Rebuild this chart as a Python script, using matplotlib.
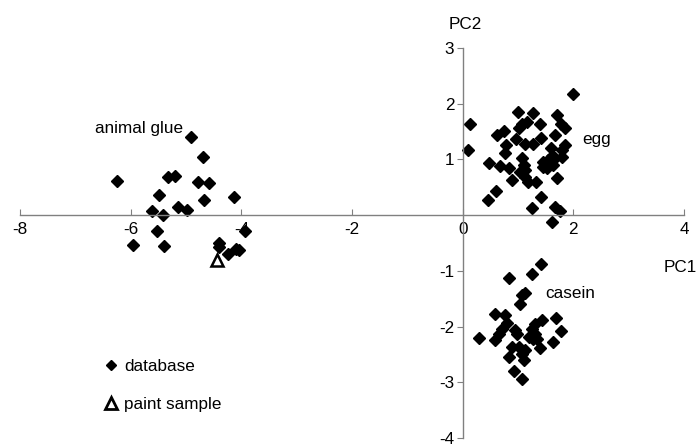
import matplotlib.pyplot as plt
from matplotlib.lines import Line2D

plt.rcParams['font.family'] = ['Liberation Sans', 'DejaVu Sans']
plt.rcParams['axes.unicode_minus'] = False

# database samples, PC1 / PC2 scores
glue_x = [-4.91, -4.69, -6.25, -5.33, -5.19, -4.79, -4.58, -5.48, -4.67, -4.13,
          -5.15, -4.98, -5.62, -5.42, -5.53, -3.93, -5.96, -5.40, -4.40, -4.40,
          -4.05, -4.10, -4.24]
glue_y = [1.40, 1.05, 0.61, 0.68, 0.70, 0.59, 0.58, 0.37, 0.28, 0.32,
          0.14, 0.10, 0.08, 0.00, -0.28, -0.28, -0.53, -0.55, -0.50, -0.58,
          -0.62, -0.61, -0.70]

egg_x = [2.00, 0.14, 0.10, 1.00, 1.28, 1.70, 1.16, 1.07, 1.40, 1.78,
         0.74, 1.85, 0.62, 1.01, 0.97, 1.42, 1.67, 1.13, 1.28, 0.79,
         1.85, 0.77, 1.60, 1.79, 0.47, 0.68, 0.83, 1.07, 1.10, 1.46,
         1.55, 1.67, 1.52, 1.64, 1.79, 1.04, 1.13, 0.89, 1.18, 1.33,
         1.70, 0.61, 0.46, 1.42, 1.25, 1.67, 1.76, 1.62, 1.12, 1.62,
         1.46]
egg_y = [2.17, 1.63, 1.17, 1.86, 1.83, 1.80, 1.67, 1.63, 1.63, 1.63,
         1.51, 1.56, 1.43, 1.57, 1.37, 1.38, 1.44, 1.27, 1.27, 1.26,
         1.26, 1.11, 1.21, 1.17, 0.93, 0.89, 0.84, 1.02, 0.90, 0.96,
         0.99, 1.02, 0.85, 0.90, 1.05, 0.78, 0.69, 0.63, 0.60, 0.60,
         0.66, 0.44, 0.28, 0.33, 0.13, 0.15, 0.08, -0.13, 0.81, 1.06,
         0.86]

casein_x = [1.42, 1.25, 0.83, 1.13, 1.08, 1.04, 0.59, 0.77, 1.69, 1.44,
            1.30, 0.80, 0.71, 0.94, 1.78, 1.25, 0.29, 0.59, 0.65, 1.19,
            1.34, 1.64, 0.89, 1.01, 1.13, 1.40, 0.83, 1.08, 1.10, 0.92,
            1.08, 1.31, 0.98, 1.28]
casein_y = [-0.87, -1.05, -1.12, -1.40, -1.44, -1.60, -1.77, -1.80, -1.84, -1.89,
            -1.95, -1.94, -2.04, -2.07, -2.08, -2.04, -2.20, -2.24, -2.13, -2.19,
            -2.22, -2.28, -2.37, -2.37, -2.42, -2.38, -2.55, -2.49, -2.60, -2.80,
            -2.94, -2.13, -2.13, -2.22]

# paint sample
sample_x = [-4.44]
sample_y = [-0.81]

x_ticks = [-8, -6, -4, -2, 0, 2, 4]
y_ticks = [-4, -3, -2, -1, 1, 2, 3]

fs = 12.3

fig = plt.figure(figsize=(6.97, 4.44), dpi=100)
ax = fig.add_axes([20 / 697, 6 / 444, 664 / 697, 390 / 444])

db_x = glue_x + egg_x + casein_x
db_y = glue_y + egg_y + casein_y
ax.plot(db_x, db_y, 'D', color='black', ms=5.8, ls='none')
ax.plot(sample_x, sample_y, '^', mfc='white', mec='black', mew=1.8, ms=8, ls='none')

ax.set_xlim(-8, 4)
ax.set_ylim(-4, 3)

# axes cross at the origin
ax.spines['left'].set_position(('data', 0))
ax.spines['bottom'].set_position(('data', 0))
ax.spines['top'].set_visible(False)
ax.spines['right'].set_visible(False)
for s in ['left', 'bottom']:
    ax.spines[s].set_color('#808080')
    ax.spines[s].set_linewidth(1.0)

ax.set_xticks(x_ticks)
ax.set_yticks(y_ticks)
ax.tick_params(axis='x', direction='in', length=4, color='#808080', labelsize=fs, pad=5)
ax.tick_params(axis='y', direction='out', length=4, color='#808080', labelsize=fs, pad=2)
ax.set_xticklabels([str(t) for t in x_ticks], ha='center')

# group labels and axis names
ax.text(-6.65, 1.55, 'animal glue', fontsize=fs, va='center', ha='left')
ax.text(2.16, 1.35, 'egg', fontsize=fs, va='center', ha='left')
ax.text(1.49, -1.40, 'casein', fontsize=fs, va='center', ha='left')
ax.text(0.05, 3.43, 'PC2', fontsize=fs, va='center', ha='center', clip_on=False)
ax.text(3.93, -0.94, 'PC1', fontsize=fs, va='center', ha='center', clip_on=False)

handles = [
    Line2D([], [], marker='D', color='black', ms=4.6, ls='none'),
    Line2D([], [], marker='^', mfc='white', mec='black', mew=2.0, ms=8.5, ls='none'),
]
ax.legend(handles, ['database', 'paint sample'], loc='lower left',
          bbox_to_anchor=(92 / 697, 23 / 444), bbox_transform=fig.transFigure,
          frameon=False, fontsize=fs, handletextpad=0.2, labelspacing=1.35,
          handlelength=1.2, borderpad=0)

fig.savefig('out.png', dpi=100)
